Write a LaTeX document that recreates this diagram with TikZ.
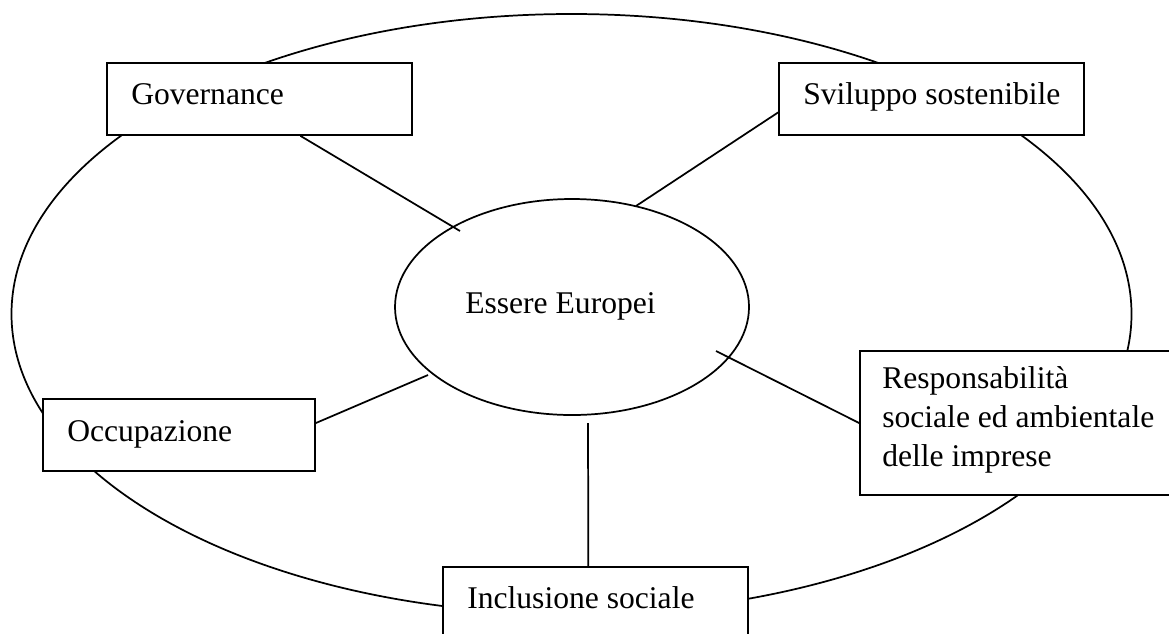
\documentclass[tikz,border=0pt]{standalone}
\usepackage{fontspec}
\setmainfont{Liberation Serif}
\usetikzlibrary{shapes.geometric}
\tikzset{
  boxnode/.style={draw, fill=white, rectangle, inner sep=0pt, line width=1.3pt},
  ovalnode/.style={draw, ellipse, inner sep=0pt, line width=1.3pt},
  lbl/.style={anchor=base west, inner sep=0pt, font=\fontsize{23.7}{29}\selectfont},
  link/.style={line width=1.3pt}
}
\begin{document}
\begin{tikzpicture}[x=0.75pt,y=-0.75pt]
\useasboundingbox (0,0) rectangle (1169,633);
\clip (0,0) rectangle (1169,633);
% outer ellipse
\node[ovalnode, minimum width=840pt, minimum height=450pt] (outer) at (571.5,314) {};
% boxes
\node[boxnode, minimum width=228.75pt, minimum height=54pt] (gov) at (259.5,99) {};
\node[boxnode, minimum width=228.75pt, minimum height=54pt] (svi) at (931.5,99) {};
\node[boxnode, minimum width=240pt, minimum height=108pt] (resp) at (1020,423) {};
\node[boxnode, minimum width=204pt, minimum height=54pt] (occ) at (179,435) {};
\node[boxnode, minimum width=228.75pt, minimum height=54pt] (inc) at (595.5,603) {};
% inner ellipse
\node[ovalnode, minimum width=265.5pt, minimum height=162pt] (ee) at (572,307) {};
% connector ends
\coordinate (gE) at (460,231);
\coordinate (sE) at (636,206);
\coordinate (rE) at (716,351);
\coordinate (oE) at (428,375);
\coordinate (iE) at (588,423);
\draw[link] (gov.-42.3) -- (gE);
\draw[link] (svi.-175.1) -- (sE);
\draw[link] (resp.west) -- (rE);
\draw[link] (occ.5.0) -- (oE);
\draw[link] (inc.101.8) -- (iE);
% texts
\node[lbl] (govt) at (131,104) {Governance};
\node[lbl] (svit) at (803,104) {Sviluppo sostenibile};
\node[lbl] (eet) at (465,313) {Essere Europei};
\node[lbl] (resp1) at (882,388) {Responsabilità};
\node[lbl] (resp2) at (882,427) {sociale ed ambientale};
\node[lbl] (resp3) at (882,466) {delle imprese};
\node[lbl] (occt) at (67,441) {Occupazione};
\node[lbl] (inct) at (467,608) {Inclusione sociale};
\end{tikzpicture}
\end{document}
